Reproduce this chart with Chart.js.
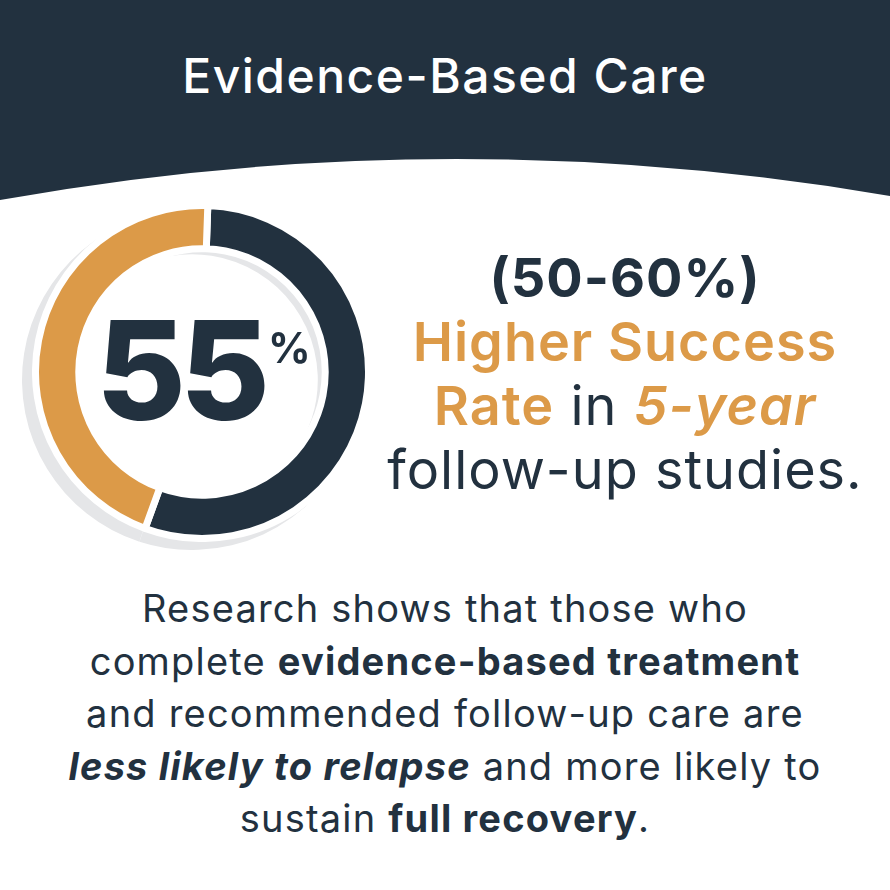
<!DOCTYPE html><html><head><meta charset="utf-8">
<script src="https://cdn.jsdelivr.net/npm/chart.js@4"></script>
<style>
body{margin:0;width:890px;height:890px;background:#fff;position:relative;overflow:hidden;font-family:Inter,"Open Sans",sans-serif;color:#22313f}
.abs{position:absolute}
.c{text-align:center}
</style></head><body>
<svg class="abs" style="left:0;top:0" width="890" height="230">
<path d="M0 0 H890 V196 Q445 120 0 200 Z" fill="#22313f"/>
</svg>
<div class="abs c" style="left:0;width:890px;top:46px;font-size:48px;letter-spacing:1.5px;font-weight:500;color:#fff">Evidence-Based Care</div>
<div class="abs" style="left:22px;top:210px;width:340px;height:340px"><canvas id="shadow"></canvas></div>
<div class="abs" style="left:32px;top:202px;width:340px;height:340px"><canvas id="donut"></canvas></div>
<div class="abs c" style="left:60px;width:240px;top:290px;font-size:138px;font-weight:800;letter-spacing:-6px;line-height:160px">55</div>
<div class="abs" style="left:268px;top:322px;font-size:42px;font-weight:700">%</div>
<div class="abs c" style="left:360px;width:530px;top:246px;font-size:54px;letter-spacing:1px;line-height:64px">
<div style="font-weight:700">(50-60%)</div>
<div style="font-weight:600;color:#dc9a48">Higher Success</div>
<div><span style="font-weight:600;color:#dc9a48">Rate</span> in <span style="font-weight:600;font-style:italic;color:#dc9a48">5-year</span></div>
<div>follow-up studies.</div>
</div>
<div class="abs c" style="left:0;width:890px;top:582px;font-size:38px;letter-spacing:1.2px;line-height:52.5px;font-weight:400">
Research shows that those who<br>complete <b>evidence-based treatment</b><br>and recommended follow-up care are<br><b><i>less likely to relapse</i></b> and more likely to<br>sustain <b>full recovery</b>.
</div>
<script>
const categories=["Higher success","Remainder"];
const values=[55,45];
const colors=["#22313f","#dc9a48"];
const base={responsive:true,maintainAspectRatio:false,animation:false,cutout:"74%",plugins:{legend:{display:false},tooltip:{enabled:false}}};
new Chart(document.getElementById("shadow"),{type:"doughnut",data:{labels:categories,datasets:[{data:values,backgroundColor:["#e5e6e8","#e5e6e8"],borderWidth:0}]},options:base});
new Chart(document.getElementById("donut"),{type:"doughnut",data:{labels:categories,datasets:[{data:values,backgroundColor:colors,borderColor:"#fff",borderWidth:7,rotation:2}]},options:base});
</script></body></html>
